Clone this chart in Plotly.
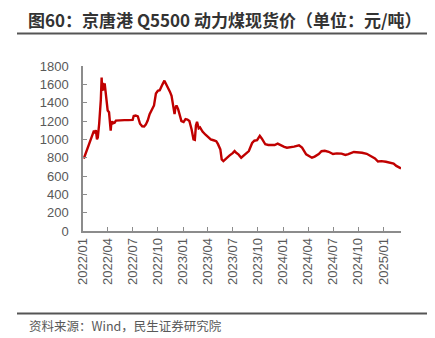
import plotly.graph_objects as go

# 京唐港 Q5500 动力煤现货价（元/吨）
dates = [
    "2022-01-04", "2022-01-10", "2022-01-17", "2022-01-24", "2022-01-28",
    "2022-02-07", "2022-02-10", "2022-02-14", "2022-02-17", "2022-02-21",
    "2022-02-24", "2022-03-01", "2022-03-04", "2022-03-07", "2022-03-10",
    "2022-03-12", "2022-03-15", "2022-03-18", "2022-03-21", "2022-03-25",
    "2022-03-29", "2022-04-01", "2022-04-06", "2022-04-09", "2022-04-12",
    "2022-04-15", "2022-04-18", "2022-04-22", "2022-04-26", "2022-05-01",
    "2022-05-15", "2022-06-01", "2022-06-15", "2022-07-01", "2022-07-05",
    "2022-07-12", "2022-07-20", "2022-07-28", "2022-08-05", "2022-08-12",
    "2022-08-18", "2022-08-25", "2022-09-01", "2022-09-10", "2022-09-17",
    "2022-09-24", "2022-10-01", "2022-10-08", "2022-10-12", "2022-10-18",
    "2022-10-25", "2022-11-01", "2022-11-07", "2022-11-14", "2022-11-20",
    "2022-11-26", "2022-12-01", "2022-12-04", "2022-12-08", "2022-12-14",
    "2022-12-20", "2022-12-26", "2023-01-03", "2023-01-10", "2023-01-17",
    "2023-01-24", "2023-02-01", "2023-02-08", "2023-02-13", "2023-02-17",
    "2023-02-21", "2023-02-27", "2023-03-04", "2023-03-13", "2023-03-24",
    "2023-04-05", "2023-04-12", "2023-04-22", "2023-05-02", "2023-05-08",
    "2023-05-17", "2023-05-22", "2023-05-28", "2023-06-05", "2023-06-10",
    "2023-06-20", "2023-07-01", "2023-07-08", "2023-07-15", "2023-07-22",
    "2023-08-01", "2023-08-10", "2023-08-20", "2023-08-29", "2023-09-10",
    "2023-09-18", "2023-09-28", "2023-10-08", "2023-10-15", "2023-10-22",
    "2023-10-28", "2023-11-08", "2023-11-20", "2023-12-01", "2023-12-12",
    "2023-12-25", "2024-01-05", "2024-01-15", "2024-01-25", "2024-02-10",
    "2024-02-28", "2024-03-10", "2024-03-25", "2024-04-06", "2024-04-15",
    "2024-04-25", "2024-05-10", "2024-05-20", "2024-06-01", "2024-06-15",
    "2024-07-01", "2024-07-15", "2024-08-01", "2024-08-15", "2024-08-26",
    "2024-09-15", "2024-10-01", "2024-10-15", "2024-11-01", "2024-11-15",
    "2024-12-01", "2024-12-12", "2024-12-25", "2025-01-10", "2025-01-25",
    "2025-02-07", "2025-02-17", "2025-02-26", "2025-03-06",
]
prices = [
    790, 840, 890, 940, 985,
    1060, 1095, 1065, 1100, 1000,
    1020, 1170, 1300, 1430, 1675,
    1530, 1615, 1535, 1610, 1500,
    1380, 1315, 1295, 1200, 1095,
    1200, 1165, 1185, 1180, 1205,
    1210, 1210, 1210, 1212, 1255,
    1260, 1250, 1170, 1142, 1140,
    1160, 1205, 1275, 1330, 1370,
    1500, 1530, 1535, 1555, 1600,
    1640, 1600, 1570, 1520, 1475,
    1380, 1275, 1340, 1370, 1330,
    1250, 1200, 1190, 1220, 1215,
    1200, 1110, 1000, 995, 1150,
    1190, 1120, 1130, 1085, 1050,
    1020, 1000, 990, 980, 950,
    890, 780, 762, 785, 800,
    825, 850, 872, 850, 836,
    800, 820, 850, 872, 960,
    985, 990, 1038, 1010, 980,
    946, 938, 935, 938, 953,
    930, 918, 909, 913, 920,
    935, 909, 836, 810, 800,
    812, 840, 870, 875, 864,
    840, 847, 844, 830, 838,
    862, 860, 853, 842, 818,
    792, 758, 762, 755, 745,
    735, 710, 695, 683,
]

tick_dates = [
    "2022-01-01", "2022-04-01", "2022-07-01", "2022-10-01",
    "2023-01-01", "2023-04-01", "2023-07-01", "2023-10-01",
    "2024-01-01", "2024-04-01", "2024-07-01", "2024-10-01",
    "2025-01-01",
]
tick_labels = [d[:4] + "/" + d[5:7] for d in tick_dates]
y_ticks = list(range(0, 1801, 200))

title_text = "图60：京唐港 Q5500 动力煤现货价（单位：元/吨）"
source_text = "资料来源：Wind，民生证券研究院"

CJK = "Noto Sans CJK SC"
AXIS_GREY = "#8c8c8c"
TEXT_GREY = "#595959"

fig = go.Figure()
fig.add_trace(go.Scatter(
    x=dates, y=prices, mode="lines",
    line=dict(color="#c00000", width=2.4),
    hoverinfo="skip", showlegend=False,
))

fig.update_layout(
    width=435, height=338,
    margin=dict(l=83, r=34, t=66, b=107),
    paper_bgcolor="white", plot_bgcolor="white",
    title=dict(
        text="<b>" + title_text + "</b>",
        x=28 / 435, xanchor="left", xref="container",
        y=1 - 21 / 338, yanchor="middle", yref="container",
        font=dict(family=CJK, size=17, color="#333333"),
    ),
    xaxis=dict(
        type="date",
        range=["2022-01-01", "2025-03-06"],
        tickvals=tick_dates, ticktext=tick_labels,
        tickangle=-90,
        ticks="inside", ticklen=4, tickcolor=AXIS_GREY, tickwidth=1,
        showline=True, linecolor=AXIS_GREY, linewidth=1.5,
        showgrid=False, zeroline=False,
        tickfont=dict(family="Liberation Sans", size=13, color=TEXT_GREY),
    ),
    yaxis=dict(
        range=[0, 1800], tickvals=y_ticks,
        ticks="inside", ticklen=4, tickcolor=AXIS_GREY, tickwidth=1,
        showline=True, linecolor=AXIS_GREY, linewidth=1.5,
        showgrid=False, zeroline=False,
        ticklabelstandoff=10,
        tickfont=dict(family="Liberation Sans", size=13, color=TEXT_GREY),
    ),
)

# Rules above the plot and above the source note (paper coords of the plot area)
plot_left, plot_w = 83, 435 - 83 - 34
plot_bottom, plot_h = 338 - 107, 338 - 66 - 107


def px_x(v):
    return (v - plot_left) / plot_w


def px_y(v):
    return (plot_bottom - v) / plot_h


for yy in (33.5, 313.5):
    fig.add_shape(
        type="line", xref="paper", yref="paper",
        x0=px_x(17), x1=px_x(427), y0=px_y(yy), y1=px_y(yy),
        line=dict(color="#555555", width=2),
    )

fig.add_annotation(
    text=source_text, xref="paper", yref="paper",
    x=px_x(27), y=px_y(325), xanchor="left", yanchor="middle",
    showarrow=False,
    font=dict(family=CJK, size=12.5, color=TEXT_GREY),
)

fig.write_html("out.html")
